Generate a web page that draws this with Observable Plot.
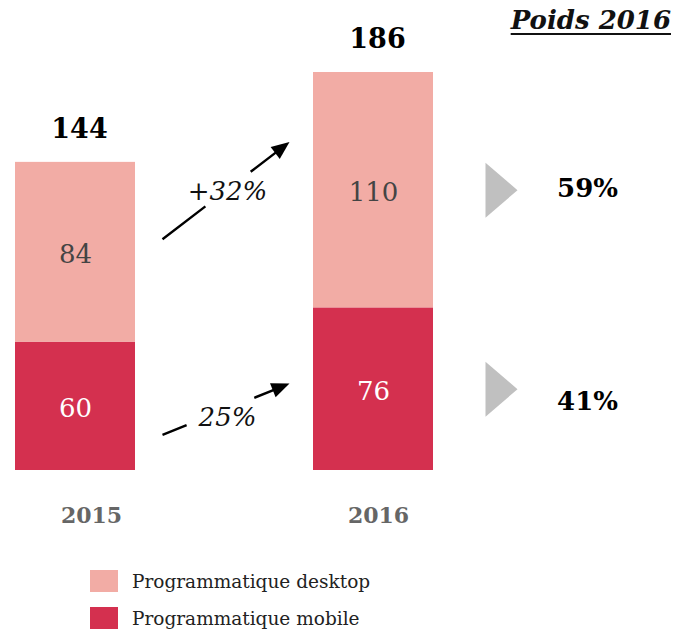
<!DOCTYPE html>
<html><head><meta charset="utf-8">
<script src="https://cdn.jsdelivr.net/npm/d3@7"></script>
<script src="https://cdn.jsdelivr.net/npm/@observablehq/plot@0.6"></script>
<style>
body{margin:0;background:#fff;font-family:"DejaVu Serif",serif;}
#wrap{position:relative;width:674px;height:631px;overflow:hidden}
#title{position:absolute;top:6px;right:3px;font:italic bold 26px "DejaVu Serif",serif;text-decoration:underline;text-decoration-thickness:2px;text-underline-offset:4px;color:#111;line-height:28px}
#legend{display:flex;flex-direction:column;gap:15px;margin-top:15px;padding-left:90px}
.item{display:flex;align-items:center;height:22px;font:18.5px "DejaVu Serif",serif;color:#222}
.sw{width:28px;height:22px;margin-right:14px;flex:none}
</style></head><body>
<div id="wrap"><div id="chart"></div><div id="title"></div><div id="legend"></div></div>
<script>
// ---- data ----
const years = ["2015", "2016"];
const seriesNames = ["Programmatique mobile", "Programmatique desktop"];
const mobile = [60, 76];
const desktop = [84, 110];
const seriesColors = ["#d4304f", "#f2aca5"];
const titleText = "Poids 2016";
const growthLabels = ["+32%", "25%"];
// arrow anchors (values at the centres of the 2015 / 2016 bars)
const arrowStart = [77, 0.2];
const arrowEnd = [183.5, 56.5];
const shareLabel = "poids";
const arrowLabel = "flux";

// ---- derived tables ----
const rows = [];
years.forEach((y, i) => {
  rows.push({year: y, serie: seriesNames[0], value: mobile[i], mid: mobile[i] / 2});
  rows.push({year: y, serie: seriesNames[1], value: desktop[i], mid: mobile[i] + desktop[i] / 2});
});
const totals = years.map((y, i) => ({year: y, total: mobile[i] + desktop[i]}));
const last = years.length - 1;
const lastTotal = totals[last].total;
const shares = [
  {serie: seriesNames[1], mid: mobile[last] + desktop[last] / 2, pct: Math.round(100 * desktop[last] / lastTotal) + "%"},
  {serie: seriesNames[0], mid: mobile[last] / 2, pct: Math.round(100 * mobile[last] / lastTotal) + "%"}
];
const arrows = growthLabels.map((l, i) => ({from: years[0], to: years[1], y1: arrowStart[i], y2: arrowEnd[i], label: l}));

// ---- layout ----
const W = 674, H = 555, mTop = 72, mBottom = 85;
const xDomain = [years[0], arrowLabel, years[1], shareLabel];
const xRange = [15, 582];
const yMax = d3.max(totals, d => d.total);
const xs = d3.scaleBand(xDomain, xRange).paddingInner(0.195).paddingOuter(0);
const cx = v => xs(v) + xs.bandwidth() / 2;
const ys = d3.scaleLinear([0, yMax], [H - mBottom, mTop]);

const FONT = "DejaVu Serif";
const dashes = ["54 57 400", "26 73 400"];
const labelDy = [0, 8];

const headSymbol = off => ({draw(ctx) {
  ctx.moveTo(-off, 0); ctx.lineTo(-off - 18, -7.5); ctx.lineTo(-off - 18, 7.5); ctx.closePath();
}});
const shareSymbol = {draw(ctx) {
  ctx.moveTo(16, 0); ctx.lineTo(-16, -27.5); ctx.lineTo(-16, 27.5); ctx.closePath();
}};

const arrowMarks = arrows.flatMap((a, i) => {
  const x1 = cx(a.from), x2 = cx(a.to), y1 = ys(a.y1), y2 = ys(a.y2);
  const dx = x2 - x1, dy = y2 - y1, L = Math.hypot(dx, dy), cos = dx / L;
  const is = 87 / cos, ie = 84 / cos;
  const ang = Math.atan2(dy, dx) * 180 / Math.PI;
  return [
    Plot.arrow([a], {x1: "from", y1: "y1", x2: "to", y2: "y2", insetStart: is, insetEnd: ie + 10,
      headLength: 0, stroke: "#000", strokeWidth: 2.4, strokeLinecap: "butt", strokeDasharray: dashes[i]}),
    Plot.dot([a], {x: "to", y: "y2", symbol: headSymbol(ie), rotate: ang, fill: "#000", r: 5}),
    Plot.text([a], {x: () => arrowLabel, y: d => (d.y1 + d.y2) / 2, text: "label", dx: 3, dy: labelDy[i],
      fontStyle: "italic", fontSize: 26, fontFamily: FONT, fill: "#111"})
  ];
});

const chart = Plot.plot({
  width: W, height: H,
  marginTop: mTop, marginBottom: mBottom, marginLeft: 0, marginRight: 0,
  x: {type: "band", domain: xDomain, range: xRange, paddingInner: 0.195, paddingOuter: 0, axis: null},
  y: {domain: [0, yMax], axis: null},
  color: {domain: seriesNames, range: seriesColors},
  style: {fontFamily: FONT, background: "#fff", overflow: "visible"},
  marks: [
    Plot.barY(rows, {x: "year", y: "value", fill: "serie"}),
    Plot.text(rows, {x: "year", y: "mid", text: d => String(d.value), dy: 2, fontSize: 26, fontFamily: FONT,
      fill: d => d.serie === seriesNames[0] ? "#ffffff" : "#444444"}),
    Plot.text(totals, {x: "year", y: "total", text: d => String(d.total), dy: -33, dx: 4,
      fontSize: 27, fontWeight: "bold", fontFamily: FONT, fill: "#000"}),
    Plot.text(totals.filter(d => d.year === years[0]), {x: "year", y: () => 0, text: "year", dy: 45, dx: 16,
      fontSize: 22, fontWeight: "bold", fontFamily: FONT, fill: "#666"}),
    Plot.text(totals.filter(d => d.year === years[1]), {x: "year", y: () => 0, text: "year", dy: 45, dx: 5,
      fontSize: 22, fontWeight: "bold", fontFamily: FONT, fill: "#666"}),
    ...arrowMarks,
    Plot.dot(shares, {x: () => shareLabel, y: "mid", symbol: shareSymbol, fill: "#c0c0c0", dx: -21, r: 5,
      dy: 0}),
    Plot.text(shares.filter(d => d.serie === seriesNames[1]), {x: () => shareLabel, y: "mid", text: "pct", dx: 65, dy: -2,
      fontSize: 26, fontWeight: "bold", fontFamily: FONT, fill: "#000"}),
    Plot.text(shares.filter(d => d.serie === seriesNames[0]), {x: () => shareLabel, y: "mid", text: "pct", dx: 65, dy: 12,
      fontSize: 26, fontWeight: "bold", fontFamily: FONT, fill: "#000"})
  ]
});
document.getElementById("chart").appendChild(chart);
document.getElementById("title").textContent = titleText;

const legend = document.getElementById("legend");
[1, 0].forEach(i => {
  const it = document.createElement("div");
  it.className = "item";
  const sw = document.createElement("span");
  sw.className = "sw"; sw.style.background = seriesColors[i];
  const tx = document.createElement("span");
  tx.textContent = seriesNames[i];
  it.appendChild(sw); it.appendChild(tx);
  legend.appendChild(it);
});
</script>
</body></html>
